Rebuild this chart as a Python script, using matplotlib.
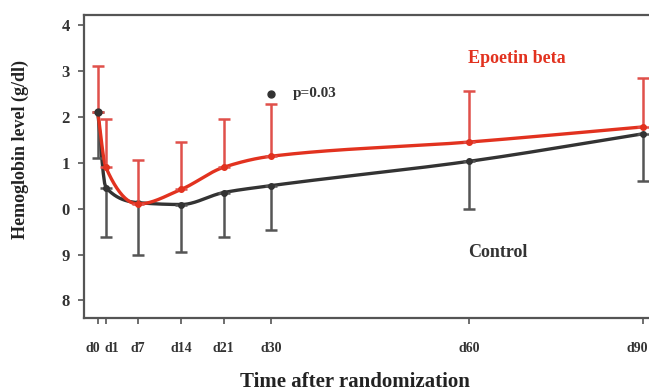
import numpy as np
import matplotlib
matplotlib.use("Agg")
import matplotlib.pyplot as plt
import matplotlib.transforms as mtransforms

# ---- data ----
days = [0, 1, 7, 14, 21, 30, 60, 90]
day_labels = ["d0", "d1", "d7", "d14", "d21", "d30", "d60", "d90"]
epo_mean = [12.1, 10.9, 10.1, 10.42, 10.9, 11.14, 11.45, 11.78]
epo_err = [1.0, 1.06, 0.97, 1.03, 1.06, 1.15, 1.12, 1.06]
ctl_mean = [12.1, 10.46, 10.13, 10.09, 10.35, 10.5, 11.03, 11.63]
ctl_err = [1.0, 1.08, 1.15, 1.04, 0.97, 0.96, 1.03, 1.03]
y_ticks = [8, 9, 10, 11, 12, 13, 14]
y_ticklabels = ["8", "9", "0", "1", "2", "3", "4"]
p_day, p_level, p_text = 30, 12.5, "p=0.03"

# nonlinear time axis (tick spacing as drawn in the original)
knot_days = np.array([-5, 0, 1, 7, 14, 21, 30, 60, 90, 100])
knot_pos = np.array([58, 98, 106, 138, 181, 223, 270, 467, 640, 698], float)


def fwd(x):
    return np.interp(x, knot_days, knot_pos)


def inv(p):
    return np.interp(p, knot_pos, knot_days)


def pchip(x, y, xs):
    x = np.asarray(x, float); y = np.asarray(y, float)
    h = np.diff(x); d = np.diff(y) / h
    m = np.zeros_like(y)
    for k in range(1, len(x) - 1):
        if d[k - 1] * d[k] > 0:
            w1 = 2 * h[k] + h[k - 1]; w2 = h[k] + 2 * h[k - 1]
            m[k] = (w1 + w2) / (w1 / d[k - 1] + w2 / d[k])
    m[0] = d[0]; m[-1] = d[-1]
    idx = np.clip(np.searchsorted(x, xs) - 1, 0, len(x) - 2)
    t = (xs - x[idx]) / h[idx]
    h00 = 2 * t**3 - 3 * t**2 + 1; h10 = t**3 - 2 * t**2 + t
    h01 = -2 * t**3 + 3 * t**2; h11 = t**3 - t**2
    return h00 * y[idx] + h10 * h[idx] * m[idx] + h01 * y[idx + 1] + h11 * h[idx] * m[idx + 1]


plt.rcParams['font.family'] = ['Liberation Serif', 'DejaVu Serif']
fig = plt.figure(figsize=(6.49, 3.92), dpi=100)
ax = fig.add_axes([0.129, 0.189, 0.875, 0.773])
ax.set_xscale('function', functions=(fwd, inv))

red = '#e2321f'
dark = '#333333'

pos = fwd(np.array(days, float))
ps = np.linspace(pos[0], pos[-1], 400)
ax.plot(inv(ps), pchip(pos, ctl_mean, ps), color=dark, lw=2.4, zorder=3)
ax.plot(inv(ps), pchip(pos, epo_mean, ps), color=red, lw=2.4, zorder=4)

ax.errorbar(days, ctl_mean, yerr=[ctl_err, [0] * len(days)], fmt='o', ms=4,
            color=dark, ecolor='#555555', elinewidth=1.8, capsize=4, capthick=1.8, zorder=3)
ax.errorbar(days, epo_mean, yerr=[[0] * len(days), epo_err], fmt='o', ms=4,
            color=red, ecolor='#e0504a', elinewidth=1.8, capsize=4, capthick=1.8, zorder=4)
ax.plot([days[0]], [ctl_mean[0]], 'o', color=dark, ms=5, zorder=5)

ax.plot([p_day], [p_level], 'o', color=dark, ms=5)
ax.text(33.3, p_level, p_text, fontsize=11, fontweight='bold', color=dark,
        va='center', ha='left')
ax.text(68.3, 13.27, "Epoetin beta", fontsize=13, fontweight='bold', color=red,
        va='center', ha='center')
ax.text(65, 9.05, "Control", fontsize=13, fontweight='bold', color=dark,
        va='center', ha='center')

ax.set_xlim(-1.75, 91.5)
ax.set_ylim(7.62, 14.22)
ax.set_xticks(days)
ax.set_xticklabels(day_labels, fontsize=10, fontweight='bold', color=dark)
ax.set_yticks(y_ticks)
ax.set_yticklabels(y_ticklabels, fontsize=12, fontweight='bold', color=dark)
ax.tick_params(axis='both', direction='out', length=4, width=1.2, colors='#555555',
               labelcolor=dark)
ax.tick_params(axis='x', pad=13)
ax.tick_params(axis='y', pad=6)
tl = ax.get_xticklabels()
tl[0].set_transform(tl[0].get_transform() + mtransforms.ScaledTranslation(-0.05, 0, fig.dpi_scale_trans))
tl[1].set_transform(tl[1].get_transform() + mtransforms.ScaledTranslation(0.055, 0, fig.dpi_scale_trans))
tl[-1].set_horizontalalignment('right')
tl[-1].set_transform(tl[-1].get_transform() + mtransforms.ScaledTranslation(0.055, 0, fig.dpi_scale_trans))
for s in ax.spines.values():
    s.set_color('#555555')
    s.set_linewidth(1.6)

ax.set_xlabel("Time after randomization", fontsize=15, fontweight='bold',
              color='#222222')
ax.xaxis.set_label_coords(0.477, -0.211)
ax.xaxis.label.set_va('center')
ax.set_ylabel("Hemoglobin level (g/dl)", fontsize=13, fontweight='bold',
              color='#222222')
ax.yaxis.set_label_coords(-0.111, 0.556)
ax.yaxis.label.set_va('center')

fig.savefig("out.png", dpi=100)
